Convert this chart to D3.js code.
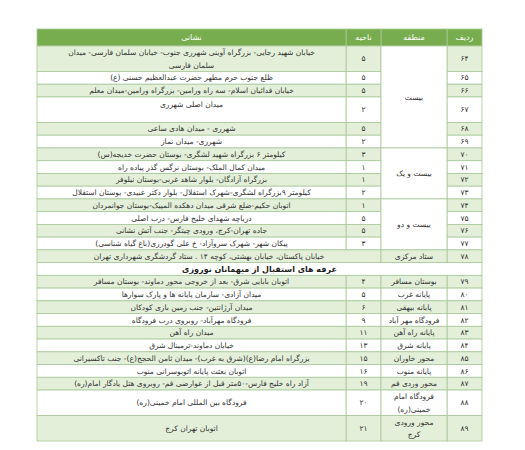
<!DOCTYPE html>
<html><head><meta charset="utf-8">
<script src="https://cdn.jsdelivr.net/npm/d3@7"></script>
<style>body{margin:0;background:#fff}text{font-family:"DejaVu Sans",sans-serif}</style>
</head><body><svg width="525" height="450"></svg>
<script>
var headers = ["ردیف", "منطقه", "ناحیه", "نشانی"];
var rowIds = ["۶۴","۶۵","۶۶","۶۷","۶۸","۶۹","۷۰","۷۱","۷۲","۷۳","۷۴","۷۵","۷۶","۷۷","۷۸","","۷۹","۸۰","۸۱","۸۲","۸۳","۸۴","۸۵","۸۶","۸۷","۸۸","۸۹"];
var rowUnits = [2,1,1,2,1,1,1,1,1,1,1,1,1,1,1,1,1,1,1,1,1,1,1,1,1,2,2];
var districts = ["۵","۵","۵","۲","۵","۲","۳","۱","۱","۲","۱","۵","۵","۳","","","۴","۵","۶","۹","۱۱","۱۳","۱۵","۱۶","۱۹","۲۰","۲۱"];
var addresses = [
 ["خیابان شهید رجایی- بزرگراه آوینی شهرری جنوب- خیابان سلمان فارسی- میدان","سلمان فارسی"],
 ["ظلع جنوب حرم مطهر حضرت عبدالعظیم حسنی (ع)"],
 ["خیابان فدائیان اسلام- سه راه ورامین- بزرگراه ورامین-میدان معلم"],
 ["میدان اصلی شهرری"],
 ["شهرری - میدان هادی ساعی"],
 ["شهرری- میدان نماز"],
 ["کیلومتر ۶ بزرگراه شهید لشگری- بوستان حضرت خدیجه(س)"],
 ["میدان کمال الملک- بوستان نرگس گذر پیاده راه"],
 ["بزرگراه آزادگان- بلوار شاهد غربی-بوستان نیلوفر"],
 ["کیلومتر ۹بزرگراه لشگری-شهرک استقلال- بلوار دکتر عبیدی- بوستان استقلال"],
 ["اتوبان حکیم-ضلع شرقی میدان دهکده المپیک-بوستان جوانمردان"],
 ["دریاچه شهدای خلیج فارس- درب اصلی"],
 ["جاده تهران-کرج، ورودی چیتگر- جنب آتش نشانی"],
 ["پیکان شهر- شهرک سروآزاد- خ علی گودرزی(باغ گیاه شناسی)"],
 ["خیابان پاکستان، خیابان بهشتی، کوچه ۱۴ . ستاد گردشگری شهرداری تهران"],
 ["غرفه های استقبال از میهمانان نوروزی"],
 ["اتوبان بابایی شرق- بعد از خروجی محور دماوند- بوستان مسافر"],
 ["میدان آزادی- سازمان پایانه ها و پارک سوارها"],
 ["میدان آرژانتین- جنب زمین بازی کودکان"],
 ["فرودگاه مهرآباد- روبروی درب فرودگاه"],
 ["میدان راه آهن"],
 ["خیابان دماوند-ترمینال شرق"],
 ["بزرگراه امام رضا(ع)(شرق به غرب)- میدان ثامن الحجج(ع)- جنب تاکسیرانی"],
 ["اتوبان بعثت پایانه اتوبوسرانی منوب"],
 ["آزاد راه خلیج فارس-۵۰متر قبل از عوارضی قم- روبروی هتل یادگار امام(ره)"],
 ["فرودگاه بین المللی امام خمینی(ره)"],
 ["اتوبان تهران کرج"]
];
// region cells: [first row index, last row index, lines]
var regions = [
 [0,5,["بیست"]],[6,9,["بیست و یک"]],[10,13,["بیست و دو"]],[14,14,["ستاد مرکزی"]],
 [16,16,["بوستان مسافر"]],[17,17,["پایانه غرب"]],[18,18,["پایانه بیهقی"]],[19,19,["فرودگاه مهر آباد"]],
 [20,20,["پایانه راه آهن"]],[21,21,["پایانه شرق"]],[22,22,["محور خاوران"]],[23,23,["پایانه منوب"]],
 [24,24,["محور وردی قم"]],[25,25,["فرودگاه امام","خمینی(ره)"]],[26,26,["محور ورودی","کرج"]]
];

var svg = d3.select("svg");
var colX = [482, 447, 381, 346, 37]; // column edges, right to left
var headTop = 29, headBottom = 46, bodyBottom = 441;
var cum = [0];
rowUnits.forEach(function(u, i) { cum.push(cum[i] + u); });
var y = d3.scaleLinear().domain([0, cum[cum.length - 1]]).range([headBottom, bodyBottom]);
var GREEN = "#e3efd9", HEAD = "#77ad4f", LINE = "#a8c89a", TXT = "#333";

function cell(x0, x1, y0, y1, fill) {
  svg.append("rect").attr("x", x0).attr("y", y0).attr("width", x1 - x0).attr("height", y1 - y0)
    .attr("fill", fill).attr("stroke", LINE).attr("stroke-width", 0.8);
}
function label(x, yc, lines, opts) {
  opts = opts || {};
  var lh = 12.5, start = yc - (lines.length - 1) * lh / 2;
  lines.forEach(function(s, k) {
    svg.append("text").attr("x", x).attr("y", start + k * lh).attr("dy", "0.35em")
      .attr("text-anchor", "middle").attr("direction", "rtl")
      .attr("font-size", opts.size || 7.5).attr("font-weight", opts.bold ? "bold" : "normal")
      .attr("fill", opts.color || TXT).text(s);
  });
}

// header
for (var c = 0; c < 4; c++) {
  cell(colX[c + 1], colX[c], headTop, headBottom, HEAD);
  label((colX[c] + colX[c + 1]) / 2, (headTop + headBottom) / 2, [headers[c]], {color: "#fff", size: 8});
}

rowIds.forEach(function(id, i) {
  var y0 = y(cum[i]), y1 = y(cum[i + 1]);
  var fill = i % 2 === 0 ? GREEN : "#fff";
  var ym = (y0 + y1) / 2;
  if (i === 15) {
    cell(colX[4], colX[0], y0, y1, "#fff");
    label((colX[0] + colX[4]) / 2, ym, addresses[i], {bold: true, size: 8, color: "#222"});
    return;
  }
  cell(colX[1], colX[0], y0, y1, fill);
  label((colX[0] + colX[1]) / 2, ym, [id]);
  if (i === 14) {
    cell(colX[4], colX[2], y0, y1, fill);
    label((colX[2] + colX[4]) / 2, ym, addresses[i]);
    return;
  }
  cell(colX[3], colX[2], y0, y1, fill);
  label((colX[2] + colX[3]) / 2, ym, [districts[i]]);
  cell(colX[4], colX[3], y0, y1, fill);
  var ya = ym;
  if (i === 0) ya = ym;
  if (i === 3) ya = y0 + 7;
  label((colX[3] + colX[4]) / 2, ya, addresses[i]);
});

regions.forEach(function(r) {
  var y0 = y(cum[r[0]]), y1 = y(cum[r[1] + 1]);
  var fill = (r[0] === r[1] && r[0] % 2 === 0) ? GREEN : "#fff";
  cell(colX[2], colX[1], y0, y1, fill);
  label((colX[1] + colX[2]) / 2, (y0 + y1) / 2, r[2]);
});
</script></body></html>
